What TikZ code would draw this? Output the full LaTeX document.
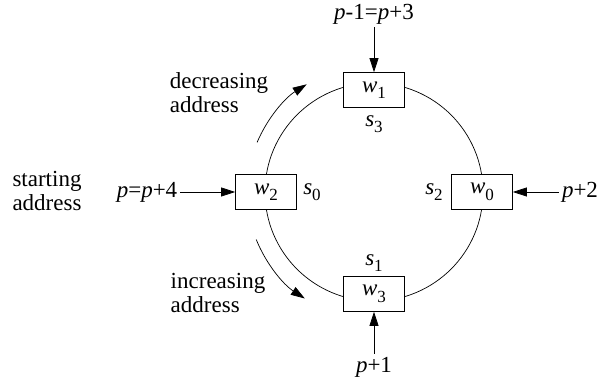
\documentclass[tikz,border=0pt]{standalone}
\usepackage{fontspec}
\setmainfont{Liberation Serif}
\usetikzlibrary{arrows.meta,positioning}

\newcommand{\wsub}[2]{\textit{#1}\raisebox{-0.28em}{\fontsize{17}{17}\selectfont #2}}

\begin{document}
\begin{tikzpicture}[x=1pt,y=1pt,
    every node/.style={font=\fontsize{23}{24}\selectfont},
    % word slots on the ring
    word/.style={rectangle, draw, fill=white, line width=0.7pt,
        minimum width=61pt, minimum height=35pt, inner sep=0pt},
    % address labels
    addr/.style={inner sep=3pt},
    % two-line remarks
    note/.style={align=left, inner sep=0pt},
    arr/.style={-{Triangle[length=14pt,width=9pt]}, line width=0.7pt},
]
\useasboundingbox (0,0) rectangle (602,387);

% ring
\coordinate (c) at (374,195);
\draw[line width=0.7pt] (c) circle[radius=109];

% word slots
\node[word] (w1) at (374,297) {\wsub{w}{1}};
\node[word] (w2) at (266,195) {\wsub{w}{2}};
\node[word] (w0) at (482,195) {\wsub{w}{0}};
\node[word] (w3) at (374,93) {\wsub{w}{3}};

% stage labels
\node (s3) at (374,263) {\wsub{s}{3}};
\node (s0) at (312,195) {\wsub{s}{0}};
\node (s2) at (434,195) {\wsub{s}{2}};
\node (s1) at (374,124) {\wsub{s}{1}};

% address labels
\node[addr] (ptop) at (374,373) {\textit{p}-1=\textit{p}+3};
\node[addr] (pleft) at (147,195) {\textit{p}=\textit{p}+4};
\node[addr] (pright) at (580,195) {\textit{p}+2};
\node[addr] (pbot) at (374,20) {\textit{p}+1};
\node[note] (start) at (47,196) {starting\\address};

\draw[arr] (ptop) -- (w1);
\draw[arr] (pleft) -- (w2);
\draw[arr] (pright) -- (w0);
\draw[arr] (pbot) -- (w3);

% direction arcs
\node[note] (dec) at (219,294) {decreasing\\address};
\node[note] (inc) at (218,94) {increasing\\address};
\draw[arr] ([shift={(157:127)}]c) arc[start angle=157, end angle=122, radius=127];
\draw[arr] ([shift={(202:127)}]c) arc[start angle=202, end angle=237, radius=127];

\end{tikzpicture}
\end{document}
